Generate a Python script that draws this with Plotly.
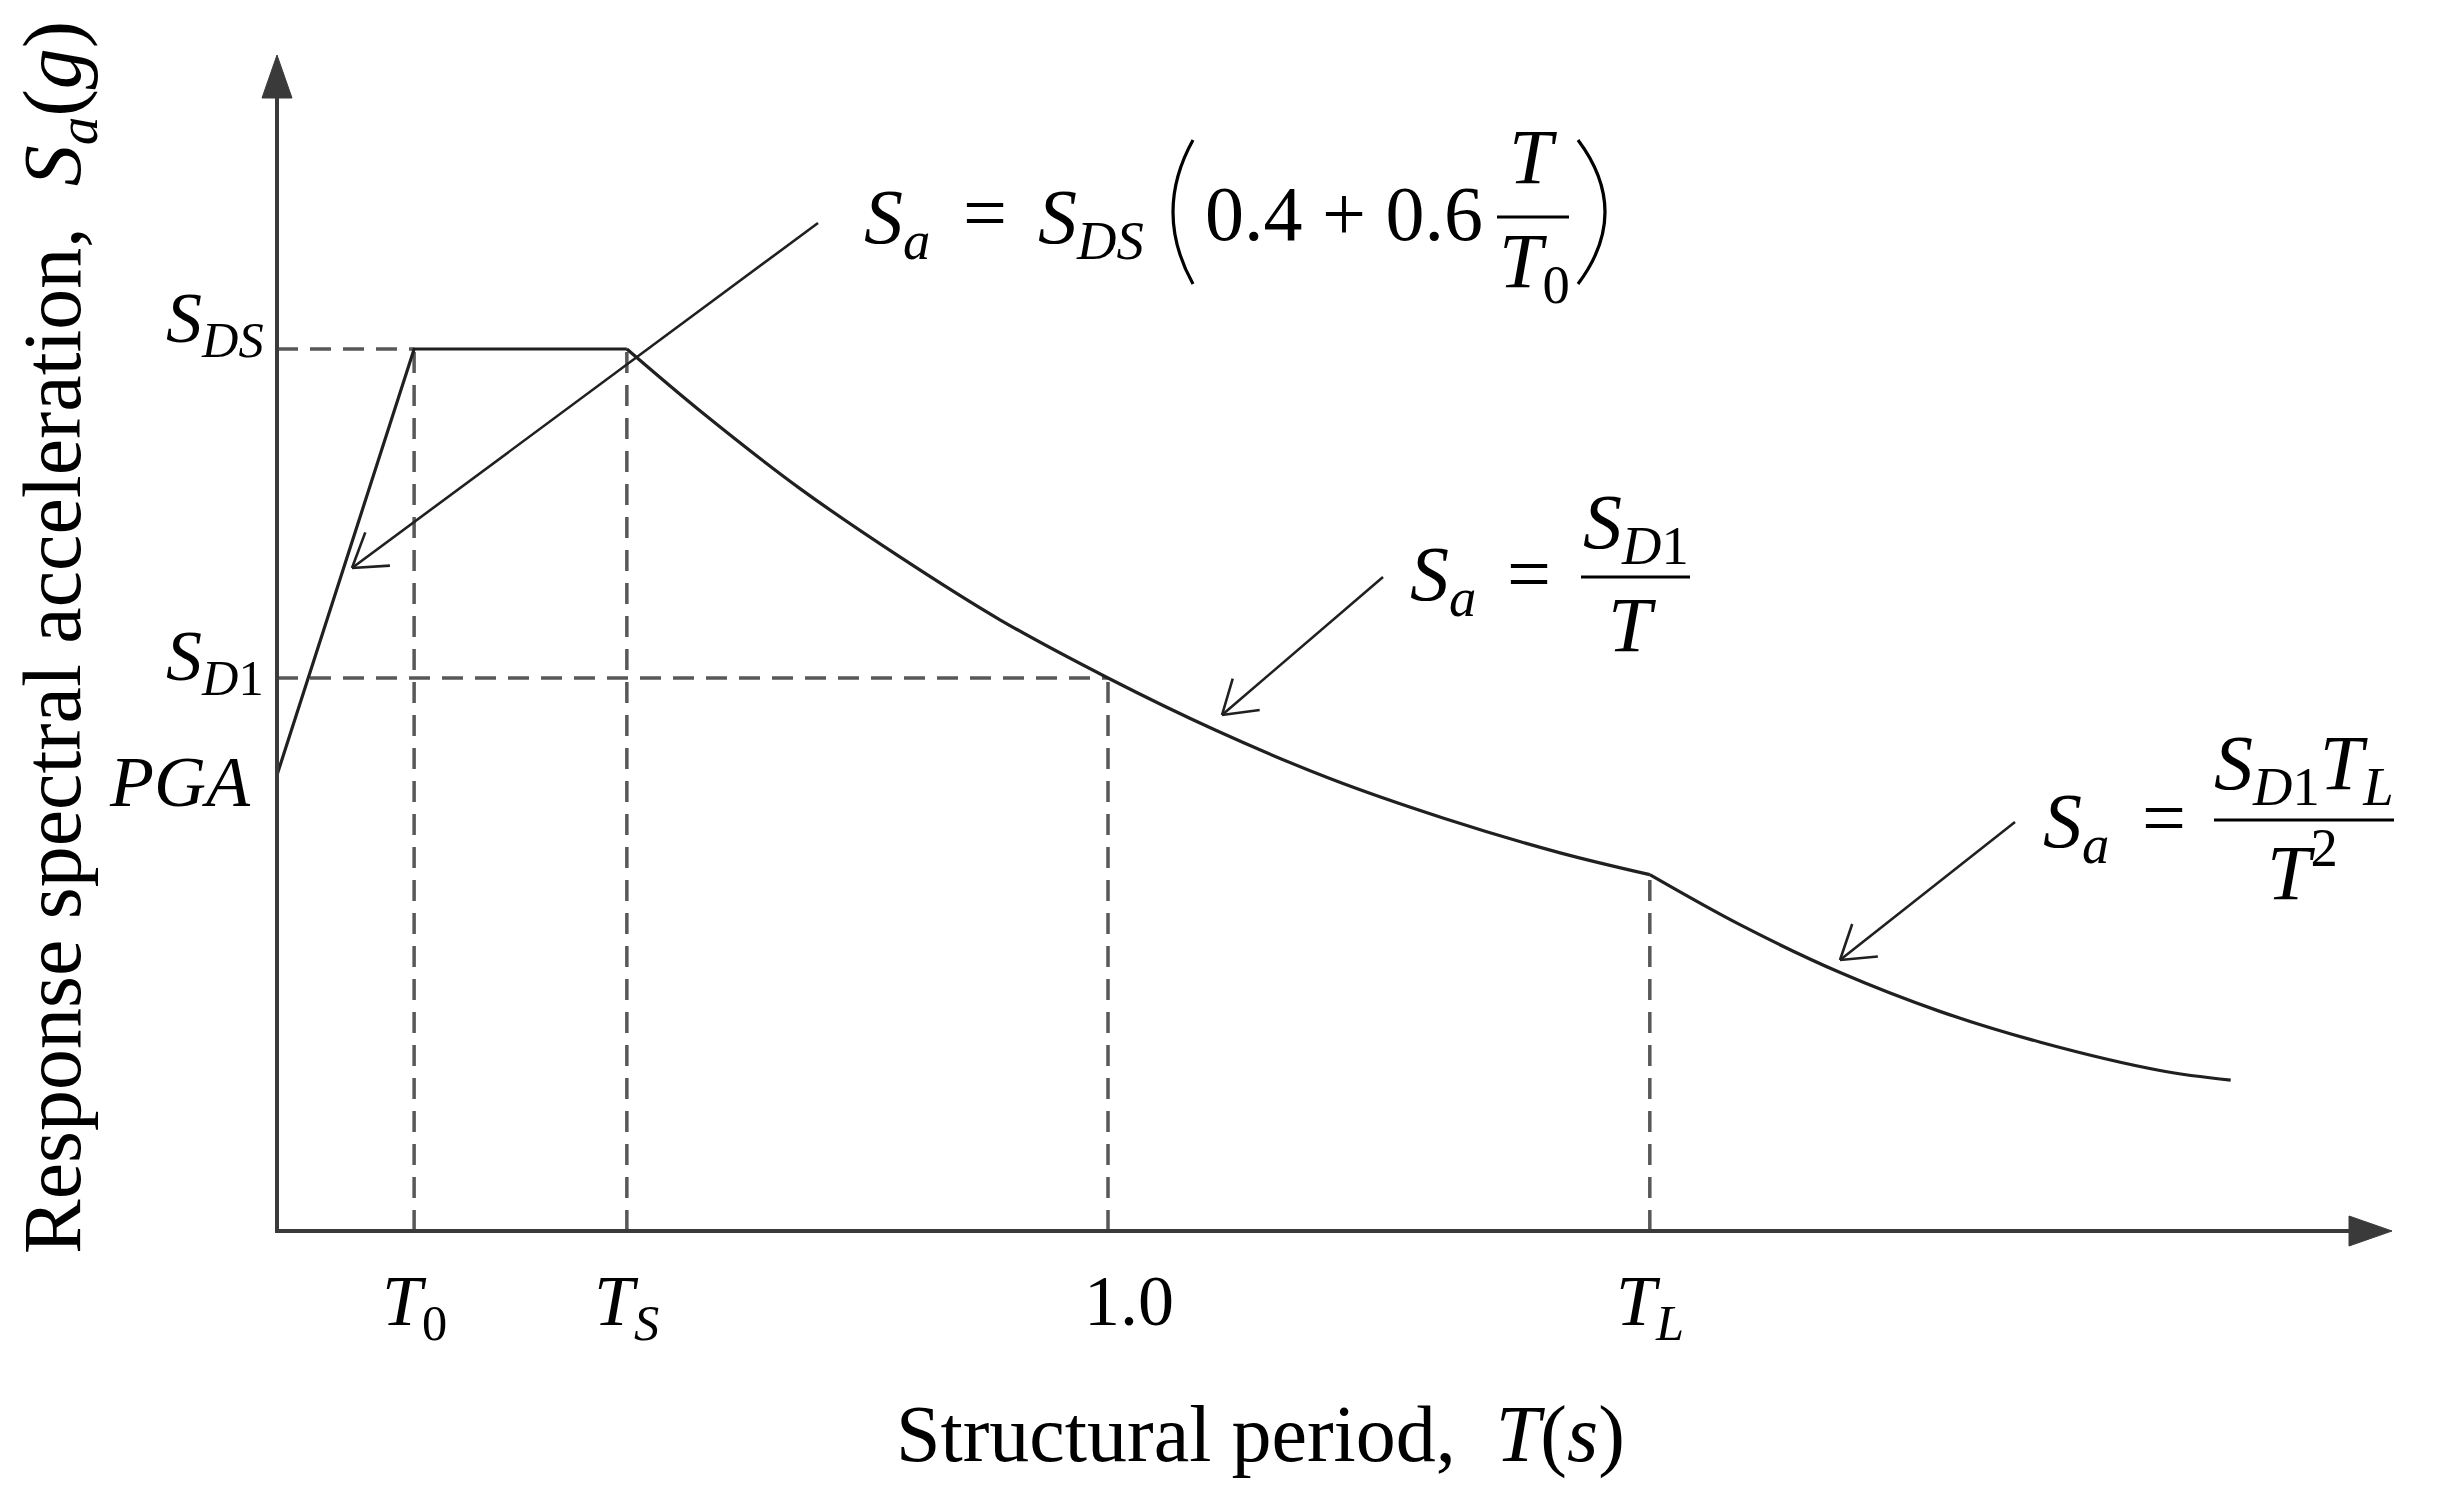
import math

import plotly.graph_objects as go


# ==========================    values    ==========================

# T in seconds, Sa in units of S_DS (S_DS = 1)
rise_period = [0.0, 0.165, 0.421]
rise_sa = [0.517, 1.0, 1.0]

velocity_period = [0.421, 0.509, 0.629, 0.750, 0.870, 1.0, 1.129, 1.267, 1.404, 1.543, 1.652]
velocity_sa = [1.0, 0.930, 0.842, 0.764, 0.693, 0.627, 0.568, 0.513, 0.468, 0.429, 0.404]

displacement_period = [1.652, 1.761, 1.881, 2.001, 2.122, 2.266, 2.351]
displacement_sa = [0.404, 0.347, 0.293, 0.249, 0.214, 0.182, 0.171]

period_ticks = [0.165, 0.421, 1.0, 1.652]
period_tick_text = ["<i>T</i><sub>0</sub>", "<i>T<sub>S</sub></i>", "1.0", "<i>T<sub>L</sub></i>"]

sa_ticks = [1.0, 0.627, 0.517]
sa_tick_text = ["<i>S<sub>DS</sub></i>", "<i>S<sub>D</sub></i><sub>1</sub>", "<i>PGA</i>"]

# dashed guides: vertical ones drop from the corner points, horizontal ones run from the axis
drop_period = [0.165, 0.421, 1.0, 1.652]
drop_sa = [1.0, 1.0, 0.627, 0.404]
level_period = [0.165, 1.0]
level_sa = [1.0, 0.627]


# ==========================    page geometry    ==========================

# the html body keeps its 8px margin, so the figure is 16px smaller than the window
FIG_W, FIG_H = 2427, 1476
PAGE_OFFSET = 8
PLOT_LEFT, PLOT_BOTTOM = 277, 1231      # page pixels of the origin
PLOT_W, PLOT_H = 2143, 1200
PX_PER_S, PX_PER_SA = 831, 882

INK = "#202020"
AXIS = "#3a3a3a"
GUIDE = "#585858"
FONT = "Liberation Serif"
EQ_SIZE = 78


def paper_x(px):
    return (px - PLOT_LEFT) / PLOT_W


def paper_y(py):
    return (PLOT_BOTTOM - py) / PLOT_H


fig = go.Figure()

guide_line = dict(color=GUIDE, width=3.5, dash="21px,12px")
for t, s in zip(drop_period, drop_sa):
    fig.add_trace(go.Scatter(x=[t, t], y=[0, s], mode="lines", line=guide_line, hoverinfo="skip"))
for t, s in zip(level_period, level_sa):
    fig.add_trace(go.Scatter(x=[0, t], y=[s, s], mode="lines", line=guide_line, hoverinfo="skip"))

fig.add_trace(go.Scatter(x=rise_period, y=rise_sa, mode="lines",
                         line=dict(color=INK, width=3.2)))
fig.add_trace(go.Scatter(x=velocity_period, y=velocity_sa, mode="lines",
                         line=dict(color=INK, width=3.2, shape="spline", smoothing=1.0)))
fig.add_trace(go.Scatter(x=displacement_period, y=displacement_sa, mode="lines",
                         line=dict(color=INK, width=3.2, shape="spline", smoothing=1.0)))


# ==========================    axes with arrow heads    ==========================

def seg(x0, y0, x1, y1, color, width):
    fig.add_shape(type="line", xref="paper", yref="paper",
                  x0=paper_x(x0), y0=paper_y(y0), x1=paper_x(x1), y1=paper_y(y1),
                  line=dict(color=color, width=width))


def head(points, color):
    path = "M" + " L".join(f"{paper_x(px)},{paper_y(py)}" for px, py in points) + " Z"
    fig.add_shape(type="path", xref="paper", yref="paper", path=path,
                  fillcolor=color, line=dict(color=color, width=1))


def paren(top, ctrl_x, bottom_y):
    # thin tall bracket drawn as a quadratic curve
    x0, y0 = top
    path = (f"M{paper_x(x0)},{paper_y(y0)} Q{paper_x(ctrl_x)},{paper_y((y0 + bottom_y) / 2)} "
            f"{paper_x(x0)},{paper_y(bottom_y)}")
    fig.add_shape(type="path", xref="paper", yref="paper", path=path,
                  line=dict(color="black", width=3.2))


seg(PLOT_LEFT, PLOT_BOTTOM, PLOT_LEFT, 95, AXIS, 4)
head([(PLOT_LEFT, 55), (PLOT_LEFT - 15, 98), (PLOT_LEFT + 15, 98)], AXIS)
seg(PLOT_LEFT - 2, PLOT_BOTTOM, 2352, PLOT_BOTTOM, AXIS, 4)
head([(2392, PLOT_BOTTOM), (2349, PLOT_BOTTOM - 15), (2349, PLOT_BOTTOM + 15)], AXIS)


# callouts: straight line with an open arrow head at the tip
def callout(tail, tip, barb=38, spread=33):
    seg(tail[0], tail[1], tip[0], tip[1], INK, 2.6)
    back = math.atan2(tail[1] - tip[1], tail[0] - tip[0])
    for d in (spread, -spread):
        a = back + math.radians(d)
        seg(tip[0], tip[1], tip[0] + barb * math.cos(a), tip[1] + barb * math.sin(a), INK, 2.6)


callout((818, 223), (352, 568))
callout((1383, 577), (1222, 715))
callout((2015, 822), (1840, 960))


# ==========================    text    ==========================

def label(text, px, py, size=EQ_SIZE, xanchor="center", **kw):
    fig.add_annotation(text=text, xref="paper", yref="paper", x=paper_x(px), y=paper_y(py),
                       xanchor=xanchor, yanchor="middle", showarrow=False,
                       font=dict(family=FONT, size=size, color="black"), **kw)


def bar(x0, x1, py):
    seg(x0, py, x1, py, "black", 3)


# tick labels, placed on the axes' own scales
x_label_shift = [0, 0, 21, 0]
for t, txt, dx in zip(period_ticks, period_tick_text, x_label_shift):
    fig.add_annotation(text=txt, xref="x", yref="paper", x=t, y=paper_y(1259), xshift=dx,
                       xanchor="center", yanchor="top", showarrow=False,
                       font=dict(family=FONT, size=72, color="black"))

y_label_right = [266, 266, 253]
y_label_shift = [26, 17, -7]
for s, txt, right, dy in zip(sa_ticks, sa_tick_text, y_label_right, y_label_shift):
    fig.add_annotation(text=txt, xref="paper", yref="y", x=paper_x(right), y=s, yshift=dy,
                       xanchor="right", yanchor="middle", showarrow=False,
                       font=dict(family=FONT, size=72, color="black"))

# Sa = S_DS (0.4 + 0.6 T / T0)
label("<i>S<sub>a</sub></i>", 862, 222, xanchor="left")
label("=", 985, 213)
label("<i>S<sub>DS</sub></i>", 1036, 222, xanchor="left")
paren((1193, 140), 1153, 284)
label("0.4 + 0.6", 1344, 214)
label("<i>T</i>", 1533, 157)
bar(1497, 1569, 217)
label("<i>T</i><sub>0</sub>", 1534, 266)
paren((1578, 140), 1632, 284)

# Sa = S_D1 / T
label("<i>S<sub>a</sub></i>", 1408, 579, xanchor="left")
label("=", 1529, 573)
bar(1581, 1690, 577)
label("<i>S<sub>D</sub></i><sub>1</sub>", 1636, 527)
label("<i>T</i>", 1632, 624)

# Sa = S_D1 T_L / T^2
label("<i>S<sub>a</sub></i>", 2041, 826, xanchor="left")
label("=", 2164, 818)
bar(2214, 2394, 820)
label("<i>S<sub>D</sub></i><sub>1</sub><i>T<sub>L</sub></i>", 2304, 768)
label("<i>T</i><sup>2</sup>", 2302, 866)

# axis titles
label("Structural period,  <i>T</i>(<i>s</i>)", 1260, 1434, size=80)
label("Response spectral acceleration,  <i>S<sub>a</sub></i>(<i>g</i>)", 58, 638, size=82, textangle=-90)


fig.update_layout(
    width=FIG_W,
    height=FIG_H,
    margin=dict(l=PLOT_LEFT - PAGE_OFFSET, t=PLOT_BOTTOM - PLOT_H - PAGE_OFFSET,
                r=FIG_W - (PLOT_LEFT - PAGE_OFFSET) - PLOT_W,
                b=FIG_H - (PLOT_BOTTOM - PAGE_OFFSET)),
    plot_bgcolor="white",
    paper_bgcolor="white",
    showlegend=False,
    font=dict(family=FONT, size=72, color="black"),
)
fig.update_xaxes(range=[0, PLOT_W / PX_PER_S], tickvals=period_ticks, showticklabels=False,
                 showgrid=False, zeroline=False, showline=False, ticks="", fixedrange=True)
fig.update_yaxes(range=[0, PLOT_H / PX_PER_SA], tickvals=sa_ticks, showticklabels=False,
                 showgrid=False, zeroline=False, showline=False, ticks="", fixedrange=True)

fig.write_html("out.html")
